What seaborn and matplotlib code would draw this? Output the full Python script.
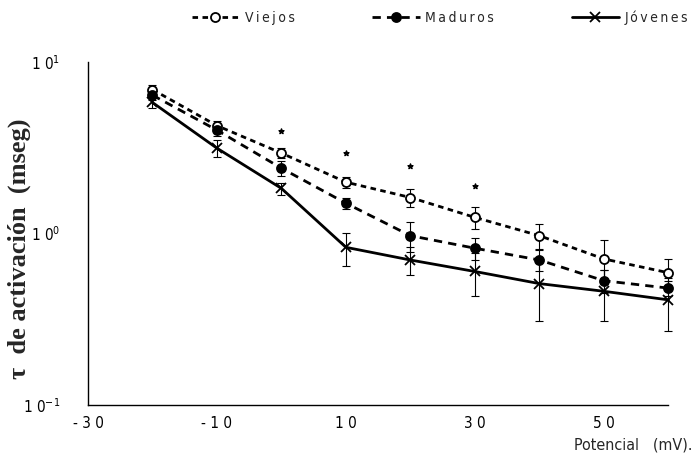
import numpy as np
import pandas as pd
import matplotlib
matplotlib.use("Agg")
import matplotlib.pyplot as plt
import seaborn as sns
from matplotlib.lines import Line2D

# Membrane potential (mV)
potencial = [-20, -10, 0, 10, 20, 30, 40, 50, 60]

# Activation time constant (ms), mean and error per age group
viejos = [6.9, 4.25, 2.94, 1.99, 1.62, 1.24, 0.97, 0.71, 0.59]
viejos_err = [0.4, 0.3, 0.2, 0.15, 0.2, 0.18, 0.16, 0.2, 0.12]
maduros = [6.4, 4.0, 2.4, 1.50, 0.97, 0.82, 0.70, 0.53, 0.48]
maduros_err = [0.4, 0.3, 0.25, 0.12, 0.19, 0.12, 0.1, 0.08, 0.05]
jovenes = [5.8, 3.14, 1.83, 0.83, 0.70, 0.60, 0.51, 0.46, 0.41]
jovenes_err = [0.4, 0.35, 0.15, 0.18, 0.13, 0.17, 0.2, 0.15, 0.14]

# Significance marks
sig_x = [0, 10, 20, 30]
sig_y = [3.95, 2.94, 2.46, 1.88]

grupos = ["Viejos", "Maduros", "Jóvenes"]

df = pd.concat([
    pd.DataFrame({"Potencial": potencial, "tau": viejos, "Grupo": "Viejos"}),
    pd.DataFrame({"Potencial": potencial, "tau": maduros, "Grupo": "Maduros"}),
    pd.DataFrame({"Potencial": potencial, "tau": jovenes, "Grupo": "Jóvenes"}),
])

sns.set_style("white")
plt.rcParams["font.family"] = ["DejaVu Sans"]
plt.rcParams["font.stretch"] = "condensed"


def espaciado(txt):
    """Spread the letters of a label with thin spaces."""
    return "\u2009".join(txt)


fig = plt.figure(figsize=(6.96, 4.69), dpi=100)
ax = fig.add_axes([0.1264, 0.1365, 0.834, 0.7315])

estilos = {
    "Viejos": dict(ls=(0, (2.0, 1.6)), marker="o", mfc="white"),
    "Maduros": dict(ls=(0, (3.0, 2.2)), marker="o", mfc="black"),
    "Jóvenes": dict(ls="-", marker="x", mfc="black"),
}

sns.lineplot(data=df, x="Potencial", y="tau", hue="Grupo",
             palette={g: "black" for g in grupos}, legend=False,
             lw=2.0, ax=ax)
for line, g in zip(ax.lines, grupos):
    line.set_linestyle(estilos[g]["ls"])
    line.set_clip_on(False)

for g, vals, errs in [("Viejos", viejos, viejos_err),
                      ("Maduros", maduros, maduros_err),
                      ("Jóvenes", jovenes, jovenes_err)]:
    st = estilos[g]
    eb = ax.errorbar(potencial, vals, yerr=errs, fmt="none", ecolor="black",
                     elinewidth=0.8, capsize=3, capthick=0.8, zorder=3)
    for art in eb.lines[1] + eb.lines[2]:
        art.set_clip_on(False)
    ax.plot(potencial, vals, ls="none", marker=st["marker"], ms=6.5,
            mfc=st["mfc"], mec="black", mew=1.3, zorder=4, clip_on=False)

ax.scatter(sig_x, sig_y, marker="*", s=14, color="black", zorder=4)

ax.set_yscale("log")
ax.set_ylim(0.1, 10)
ax.set_xlim(-30, 60)

ax.set_yticks([0.1, 1, 10])
ax.set_yticklabels(["1 0$^{-1}$", "1 0$^{0}$", "1 0$^{1}$"], fontsize=11)
ax.yaxis.set_minor_locator(matplotlib.ticker.NullLocator())
ax.set_xticks(range(-30, 61, 10))
ax.set_xticklabels(["- 3 0", "", "- 1 0", "", "1 0", "", "3 0", "", "5 0", ""],
                   fontsize=11)
ax.tick_params(axis="x", direction="out", length=5, width=1.0,
               colors="black", pad=3)
ax.tick_params(axis="y", direction="out", length=6, width=1.0,
               colors="black", pad=14)

for s in ["top", "right"]:
    ax.spines[s].set_visible(False)
for s in ["left", "bottom"]:
    ax.spines[s].set_color("black")
    ax.spines[s].set_linewidth(1.0)

ax.set_xlabel("")
ax.set_ylabel("τ  de activación  (mseg)",
              family=["Liberation Serif", "DejaVu Serif"],
              fontsize=19, fontweight="bold", fontstretch="normal")
ax.yaxis.set_label_coords(-0.098, 0.455)
fig.text(0.995, 0.052, "Potencial   (mV).", ha="right",
         va="center", fontsize=11.5)

handles = []
for g in grupos:
    st = estilos[g]
    handles.append(Line2D([], [], color="black", lw=2.0, ls=st["ls"],
                          marker=st["marker"], ms=6.5, mfc=st["mfc"],
                          mec="black", mew=1.3))
fig.legend(handles, [espaciado(g) for g in grupos],
           loc="center", bbox_to_anchor=(0.632, 0.962), ncol=3,
           frameon=False, handlelength=3.4, columnspacing=5.6,
           handletextpad=0.4, fontsize=10)

fig.savefig("out.png", dpi=100)
